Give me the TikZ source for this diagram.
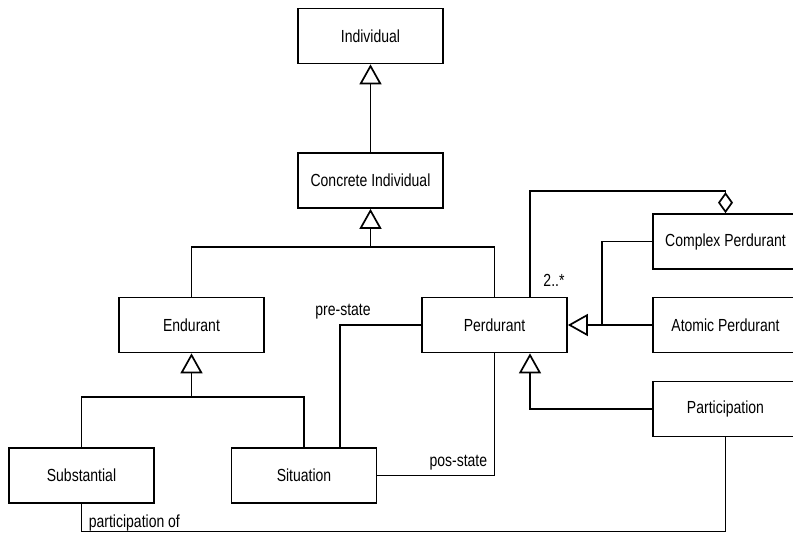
\documentclass[tikz,border=0pt]{standalone}
\usepackage{fontspec}
\setmainfont{Liberation Sans}[FakeStretch=0.8]
\usetikzlibrary{arrows.meta}
\begin{document}
\begin{tikzpicture}[x=1pt,y=-1pt, line width=1.7pt,
  txt/.style={font=\fontsize{17.5}{20}\selectfont},
  cls/.style={draw, txt, fill=white, minimum width=145pt, minimum height=55pt, inner sep=0pt},
  lbl/.style={txt, inner sep=0pt},
  gen/.style={-{Triangle[open,length=20pt,width=22pt]}},
  agg/.style={-{Diamond[open,length=21pt,width=15pt]}}]
\useasboundingbox (0,0) rectangle (793,533);
\clip (0,0) rectangle (793,533);

% classes
\node[cls] (ind)   at (370.5,36)    {Individual};
\node[cls] (conc)  at (370.5,180.5) {Concrete Individual};
\node[cls] (endu)  at (191.5,325)   {Endurant};
\node[cls] (perd)  at (494.5,325)   {Perdurant};
\node[cls] (subst) at (81.5,475.5)  {Substantial};
\node[cls] (sit)   at (304,475.5)   {Situation};
\node[cls] (cplx)  at (725.5,241.5) {Complex Perdurant};
\node[cls] (atom)  at (725.5,325)   {Atomic Perdurant};
\node[cls] (part)  at (725.5,409)   {Participation};

% junction points
\coordinate (hubA) at (370.5,247);
\coordinate (hubB) at (602,325);
\coordinate (hubC) at (191.5,397);
\coordinate (floor) at (0,531.5);

% generalizations
\draw[gen] (conc.north) -- (ind.south);
\draw[gen] (endu.north) |- (hubA) -- (conc.south);
\draw (perd.north) |- (hubA);
\draw[gen] (subst.north) |- (hubC) -- (endu.south);
\draw (sit.north) |- (hubC);
\draw[gen] (atom.west) -- (perd.east);
\draw (cplx.west) -| (hubB);
\draw[gen] (part.west) -| ([xshift=35.5pt]perd.south);

% aggregation
\draw[agg] ([xshift=35.5pt]perd.north) |- ([yshift=22pt]cplx.north) -- (cplx.north);

% associations
\draw (perd.west) -| ([xshift=36pt]sit.north);
\draw (sit.east) -| (perd.south);
\draw (subst.south) |- (floor -| part.south) -- (part.south);

% labels
\node[lbl, anchor=base] (mult) at (554,286) {2..*};
\node[lbl, anchor=base] (pre)  at (343,315) {pre-state};
\node[lbl, anchor=base east] (pos) at (488,466) {pos-state};
\node[lbl, anchor=base west] (pof) at (88,527) {participation of};
\end{tikzpicture}
\end{document}
